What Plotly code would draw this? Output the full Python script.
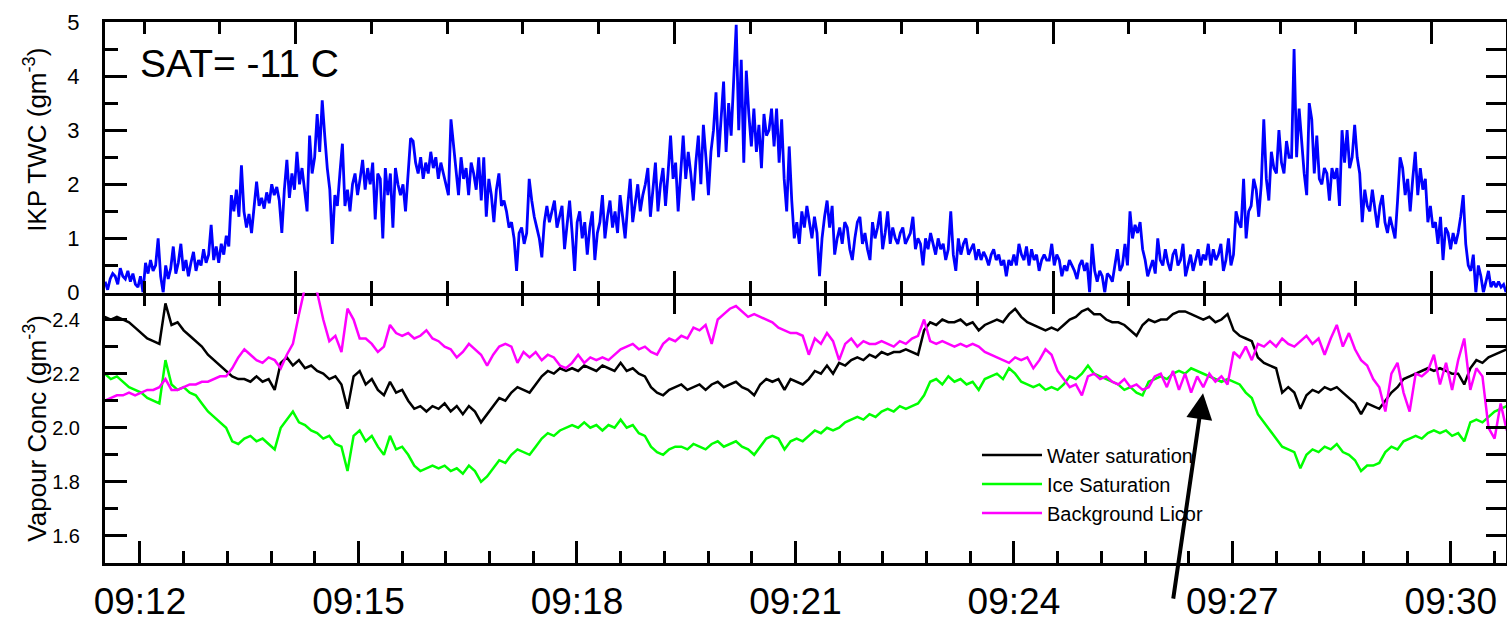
import pandas as pd
import plotly.graph_objects as go

DAY = "2000-01-01"

# ---- IKP total water content (top panel), sampled every 2 s ----
TWC_START = "09:12:29"
TWC_STEP_S = 2
twc = [
    0.2, 0.05, 0.25, 0.35, 0.3, 0.15, 0.45, 0.3, 0.25, 0.4, 0.2, 0.35, 0.15, 0.1,
    0.3, 0.0, 0.55, 0.35, 0.6, 0.4, 0.5, 1.0, 0.3, 0.0, 0.5, 0.25, 0.45, 0.85, 0.35, 0.55,
    0.9, 0.4, 0.6, 0.3, 0.55, 0.75, 0.4, 0.6, 0.5, 0.8, 0.55, 0.7, 1.25, 0.6, 0.85, 0.55,
    0.9, 0.7, 1.05, 0.85,
    1.8, 1.5, 1.9, 1.4, 2.35, 1.5, 1.2, 1.45, 1.1, 1.6, 2.05, 1.6, 1.75, 1.55, 1.85, 1.65,
    2.0, 1.8, 1.95, 1.7,
    1.1, 1.9, 2.45, 1.75, 2.2, 1.9, 2.6, 2.0, 2.3, 1.9, 1.5, 2.9, 2.2, 2.5, 3.3, 2.6, 3.55,
    2.9, 2.3,
    1.9, 0.9, 1.8, 1.6, 2.2, 2.75, 1.6, 1.9, 1.5, 2.0, 2.2, 1.8, 2.1, 2.45, 1.9, 2.3, 2.0,
    2.4, 1.35, 2.2, 2.1, 1.0, 2.3, 1.8, 2.2, 1.2, 2.3, 2.0,
    1.8, 2.0, 1.5, 2.1, 2.85, 2.8, 2.4, 2.2, 2.5, 2.1, 2.4, 2.2, 2.6, 2.3, 2.5, 2.1, 2.4,
    2.2, 2.0, 1.8,
    3.2, 2.7, 2.3, 1.8, 2.5, 2.1, 2.3, 1.8, 2.4, 2.2, 1.9, 2.5, 1.7, 2.5, 1.4, 2.1, 1.8,
    1.3, 1.9, 2.2,
    1.6, 1.7, 1.5, 1.2, 1.3, 1.0, 0.4, 1.1, 1.2, 0.9, 1.1, 2.1,
    1.7, 1.4, 1.2, 1.0, 0.65, 1.3, 1.6, 1.3, 1.5, 1.7, 1.2, 1.4, 1.6, 0.8, 1.3, 1.7, 1.1,
    0.4, 1.3, 1.5, 1.0, 1.3, 0.7, 1.2, 1.5, 0.6, 1.1,
    1.3, 1.8, 1.0, 1.4, 1.7, 1.2, 1.5, 1.1, 1.8, 1.4, 1.0, 1.6, 2.1, 1.3, 1.7, 2.0, 1.5,
    1.8, 2.0, 2.3,
    1.4, 1.9, 2.4, 1.5, 2.0, 2.3, 1.6, 2.2, 2.9, 2.1, 2.4, 1.5, 2.2, 2.9, 2.1, 2.6, 2.2,
    1.7, 2.4, 2.9,
    2.0, 3.1, 2.5, 1.8, 2.6, 3.0, 3.7, 2.5, 3.2, 3.9, 2.6, 3.5, 2.9, 3.8, 4.95, 3.0, 4.3,
    2.4, 4.1, 3.3, 2.7, 3.4, 2.6, 3.1, 2.3, 3.3, 2.9, 3.0, 3.4, 2.7, 3.4, 2.4,
    3.2, 2.1, 1.5, 2.7, 1.7, 1.0, 1.3, 0.9,
    1.5, 1.2, 1.6, 1.3, 1.0, 1.4, 1.1, 0.3, 1.0, 1.4, 1.7, 1.2, 1.6, 0.7, 1.0, 1.2, 0.9,
    1.3, 1.2, 0.8, 0.6, 1.0, 1.3, 1.4,
    0.9, 1.1, 0.8, 0.6, 1.3, 1.0, 1.2, 1.5, 0.8, 1.1, 1.5, 0.9, 1.2, 1.0, 0.9, 1.1, 1.2,
    0.9, 1.0, 1.1, 1.4, 0.8, 1.0, 0.9, 0.5, 1.0, 0.8, 1.1, 0.9, 0.7, 1.0, 0.8, 0.9, 0.6, 0.8,
    1.5, 0.7, 0.4, 1.0, 0.7, 0.9, 1.0, 0.7, 0.8, 0.9, 0.6, 0.8, 0.6, 0.75, 0.65, 0.5, 0.7,
    0.8, 0.6, 0.7, 0.5, 0.6, 0.3, 0.6, 0.5, 0.7, 0.5, 0.9, 0.7, 0.6, 0.85, 0.5, 0.8, 0.6,
    0.7, 0.4, 0.6, 0.7, 0.6,
    0.6, 0.9, 0.5, 0.7, 0.6, 0.3, 0.5, 0.4, 0.6, 0.5, 0.4, 0.25, 0.5, 0.6, 0.4, 0.55, 0.0,
    0.9, 0.4, 0.2,
    0.4, 0.3, 0.0, 0.35, 0.3, 0.2, 0.5, 0.8, 0.4, 0.5, 0.9, 0.5, 1.5, 1.0, 1.25, 1.1, 1.3, 0.8,
    0.6, 0.3, 0.45, 0.6, 0.35, 1.0, 0.6, 0.5, 0.8, 0.55, 0.4, 0.7, 0.8, 0.5, 0.6, 0.9, 0.3,
    0.5, 0.7, 0.4, 0.6, 0.8, 0.5, 0.7, 0.6, 0.9, 0.5, 0.8, 0.6, 0.7, 0.9, 0.4, 0.6, 1.0, 0.5, 0.7,
    1.5, 1.3, 1.2, 2.1, 1.0, 1.5, 1.6, 2.1, 1.9, 1.4,
    2.0, 3.2, 2.1, 1.7, 2.6, 2.3, 2.2, 3.0, 2.4, 2.2, 2.8, 2.5,
    2.5, 4.5, 2.5, 3.4, 2.8, 2.2, 1.8, 3.5, 3.2, 2.2, 2.9, 2.1,
    2.0, 2.3, 2.2, 1.7, 2.3, 2.1, 2.3, 1.6, 3.0, 2.4, 3.0, 2.3, 2.5, 3.1, 2.5, 2.2,
    1.3, 1.9, 1.6, 1.5, 1.9, 1.5, 1.2, 1.6, 1.8, 1.3, 1.1, 1.4, 1.2, 1.0, 1.7,
    2.5, 2.3, 1.8, 2.1, 1.5, 2.1, 2.6, 1.8, 2.3, 1.9,
    2.1, 1.3, 1.6, 1.2, 1.3, 0.9, 1.4, 0.6, 1.2, 1.1, 0.8, 1.1, 0.9, 1.1, 1.4, 1.8, 0.9, 0.5,
    0.4, 0.7, 0.0, 0.5, 0.3, 0.0, 0.2, 0.4, 0.1, 0.2, 0.1, 0.2, 0.1, 0.15, 0.0,
]

# ---- Vapour concentrations (bottom panel), sampled every 5 s ----
VAP_START = "09:11:31"
VAP_STEP_S = 5
water_sat = [
    2.41, 2.40, 2.41, 2.40, 2.39, 2.37, 2.35, 2.33, 2.32, 2.31,
    2.46, 2.38, 2.39, 2.36, 2.34, 2.32, 2.30, 2.27, 2.25, 2.23,
    2.21, 2.19, 2.18, 2.18, 2.17, 2.19, 2.17, 2.18, 2.14, 2.24,
    2.26, 2.23, 2.25, 2.22, 2.23, 2.21, 2.20, 2.18, 2.19, 2.16,
    2.07, 2.19, 2.21, 2.16, 2.18, 2.14, 2.12, 2.17, 2.13, 2.14,
    2.10, 2.07, 2.08, 2.06, 2.08, 2.07, 2.09, 2.06, 2.08, 2.05,
    2.08, 2.06, 2.02, 2.05, 2.08, 2.11, 2.10, 2.13, 2.15, 2.14,
    2.13, 2.16, 2.19, 2.21, 2.20, 2.22, 2.21, 2.22, 2.21, 2.23,
    2.22, 2.21, 2.23, 2.22, 2.21, 2.24, 2.21, 2.22, 2.20, 2.19,
    2.15, 2.13, 2.12, 2.14, 2.15, 2.16, 2.14, 2.15, 2.16, 2.14,
    2.16, 2.17, 2.15, 2.16, 2.17, 2.15, 2.14, 2.12, 2.16, 2.18,
    2.17, 2.18, 2.14, 2.18, 2.17, 2.16, 2.18, 2.21, 2.20, 2.23,
    2.20, 2.24, 2.23, 2.25, 2.26, 2.25, 2.27, 2.26, 2.28, 2.27,
    2.28, 2.28, 2.29, 2.28, 2.27, 2.36, 2.39, 2.38, 2.40, 2.39,
    2.39, 2.40, 2.38, 2.39, 2.36, 2.38, 2.39, 2.40, 2.39, 2.42,
    2.44, 2.41, 2.39, 2.38, 2.37, 2.36, 2.37, 2.36, 2.38, 2.40,
    2.41, 2.43, 2.44, 2.42, 2.42, 2.40, 2.39, 2.39, 2.38, 2.36,
    2.34, 2.38, 2.40, 2.39, 2.40, 2.40, 2.42, 2.43, 2.43, 2.42,
    2.41, 2.40, 2.41, 2.39, 2.40, 2.42, 2.36, 2.34, 2.33, 2.32,
    2.26, 2.24, 2.23, 2.22, 2.13, 2.15, 2.13, 2.07, 2.12, 2.14,
    2.13, 2.15, 2.14, 2.15, 2.13, 2.11, 2.09, 2.05, 2.09, 2.08,
    2.07, 2.10, 2.13, 2.15, 2.18, 2.19, 2.20, 2.21, 2.22, 2.21,
    2.22, 2.21, 2.20, 2.20, 2.16, 2.22, 2.25, 2.24, 2.26, 2.27,
    2.28, 2.29,
]
ice_sat = [
    2.20, 2.18, 2.19, 2.17, 2.15, 2.14, 2.13, 2.11, 2.10, 2.09,
    2.25, 2.16, 2.14, 2.15, 2.13, 2.12, 2.09, 2.06, 2.04, 2.02,
    2.00, 1.95, 1.94, 1.96, 1.97, 1.95, 1.96, 1.94, 1.92, 2.00,
    2.03, 2.06, 2.02, 2.01, 1.99, 1.98, 1.96, 1.97, 1.94, 1.93,
    1.84, 1.97, 1.99, 1.95, 1.97, 1.93, 1.90, 1.97, 1.92, 1.93,
    1.90, 1.86, 1.84, 1.85, 1.86, 1.85, 1.86, 1.84, 1.85, 1.83,
    1.86, 1.84, 1.80, 1.82, 1.85, 1.88, 1.87, 1.90, 1.92, 1.91,
    1.90, 1.93, 1.96, 1.98, 1.97, 1.99, 2.00, 2.01, 2.00, 2.02,
    2.00, 2.01, 1.99, 2.01, 2.00, 2.03, 2.00, 2.01, 1.98, 1.97,
    1.93, 1.91, 1.90, 1.92, 1.93, 1.93, 1.92, 1.94, 1.93, 1.92,
    1.94, 1.95, 1.93, 1.94, 1.95, 1.93, 1.92, 1.90, 1.93, 1.96,
    1.97, 1.96, 1.92, 1.95, 1.96, 1.95, 1.97, 1.99, 1.98, 2.00,
    1.99, 2.00, 2.02, 2.03, 2.04, 2.03, 2.05, 2.04, 2.06, 2.07,
    2.06, 2.08, 2.07, 2.08, 2.09, 2.12, 2.17, 2.18, 2.16, 2.19,
    2.17, 2.18, 2.16, 2.17, 2.14, 2.18, 2.19, 2.20, 2.18, 2.22,
    2.20, 2.17, 2.16, 2.15, 2.16, 2.14, 2.15, 2.14, 2.16, 2.19,
    2.18, 2.20, 2.23, 2.20, 2.19, 2.18, 2.17, 2.16, 2.14, 2.15,
    2.13, 2.12, 2.17, 2.18, 2.19, 2.18, 2.20, 2.21, 2.20, 2.22,
    2.21, 2.20, 2.19, 2.18, 2.17, 2.18, 2.17, 2.16, 2.13, 2.11,
    2.05, 2.02, 1.99, 1.96, 1.93, 1.92, 1.91, 1.85, 1.90, 1.92,
    1.91, 1.93, 1.92, 1.94, 1.91, 1.90, 1.88, 1.84, 1.86, 1.86,
    1.87, 1.91, 1.93, 1.92, 1.95, 1.96, 1.97, 1.96, 1.98, 1.99,
    1.98, 1.99, 1.97, 1.98, 1.95, 2.02, 2.03, 2.02, 2.04, 2.06,
    2.07, 2.08,
]
licor = [
    2.10, 2.11, 2.12, 2.12, 2.13, 2.12, 2.13, 2.14, 2.14, 2.15,
    2.18, 2.14, 2.14, 2.15, 2.16, 2.16, 2.17, 2.17, 2.18, 2.19,
    2.19, 2.22, 2.26, 2.29, 2.27, 2.25, 2.24, 2.26, 2.25, 2.22,
    2.27, 2.31, 2.42, 2.52, 2.53, 2.50, 2.40, 2.32, 2.34, 2.28,
    2.44, 2.40, 2.33, 2.33, 2.31, 2.28, 2.30, 2.38, 2.35, 2.34,
    2.35, 2.33, 2.34, 2.36, 2.33, 2.32, 2.30, 2.29, 2.26, 2.28,
    2.31, 2.29, 2.27, 2.23, 2.27, 2.30, 2.31, 2.30, 2.24, 2.28,
    2.26, 2.28, 2.25, 2.27, 2.26, 2.23, 2.22, 2.24, 2.27, 2.24,
    2.26, 2.25, 2.26, 2.25, 2.27, 2.29, 2.30, 2.31, 2.29, 2.30,
    2.28, 2.27, 2.31, 2.33, 2.32, 2.34, 2.33, 2.37, 2.36, 2.38,
    2.31, 2.40, 2.42, 2.44, 2.45, 2.43, 2.41, 2.42, 2.41, 2.40,
    2.39, 2.37, 2.36, 2.35, 2.35, 2.34, 2.27, 2.33, 2.31, 2.35,
    2.32, 2.25, 2.31, 2.33, 2.30, 2.32, 2.31, 2.31, 2.32, 2.31,
    2.30, 2.32, 2.31, 2.33, 2.34, 2.40, 2.32, 2.31, 2.32, 2.31,
    2.30, 2.31, 2.30, 2.31, 2.30, 2.28, 2.27, 2.26, 2.25, 2.24,
    2.26, 2.25, 2.26, 2.22, 2.25, 2.29, 2.27, 2.21, 2.18, 2.15,
    2.16, 2.12, 2.19, 2.20, 2.18, 2.19, 2.17, 2.16, 2.18, 2.15,
    2.16, 2.14, 2.15, 2.19, 2.20, 2.15, 2.21, 2.14, 2.20, 2.13,
    2.19, 2.15, 2.20, 2.17, 2.19, 2.16, 2.28, 2.26, 2.30, 2.25,
    2.31, 2.30, 2.32, 2.30, 2.33, 2.31, 2.30, 2.32, 2.34, 2.31,
    2.33, 2.27, 2.33, 2.38, 2.30, 2.35, 2.29, 2.25, 2.23, 2.18,
    2.15, 2.06, 2.20, 2.24, 2.13, 2.06, 2.20, 2.19, 2.21, 2.27,
    2.16, 2.24, 2.14, 2.25, 2.33, 2.14, 2.22, 2.19, 2.00, 1.96,
    2.09, 1.99,
]

series_names = ["Water saturation", "Ice Saturation", "Background Licor"]

# axis windows and ticks
TOP_RANGE = [f"{DAY} 09:12:28.9", f"{DAY} 09:30:58.9"]
BOT_RANGE = [f"{DAY} 09:11:31.2", f"{DAY} 09:30:45.4"]
ARROW_TIP_TIME = f"{DAY} 09:26:35.8"
ARROW_TIP_VALUE = 2.128

FONT = "Liberation Sans, Arial, sans-serif"


def times(start, step, n):
    return pd.date_range(f"{DAY} {start}", periods=n, freq=f"{step}s")


twc_t = times(TWC_START, TWC_STEP_S, len(twc))

fig = go.Figure()
fig.add_trace(go.Scatter(x=twc_t, y=twc, mode="lines", line=dict(color="#0000ff", width=2.8),
                         showlegend=False, xaxis="x", yaxis="y", hoverinfo="skip"))

for name, vals, col in zip(series_names, [water_sat, ice_sat, licor],
                           ["#000000", "#00ff00", "#ff00ff"]):
    fig.add_trace(go.Scatter(x=times(VAP_START, VAP_STEP_S, len(vals)), y=vals, mode="lines",
                             name=name, line=dict(color=col, width=2.5),
                             xaxis="x2", yaxis="y2", hoverinfo="skip"))

# helper traces so the overlay axes get drawn
fig.add_trace(go.Scatter(x=[None], y=[None], xaxis="x3", yaxis="y", showlegend=False))
fig.add_trace(go.Scatter(x=[None], y=[None], xaxis="x", yaxis="y3", showlegend=False))
fig.add_trace(go.Scatter(x=[None], y=[None], xaxis="x2", yaxis="y4", showlegend=False))

LW = 3
common = dict(showgrid=False, zeroline=False, linecolor="black", linewidth=LW,
              tickcolor="black", tickwidth=LW)

fig.update_layout(
    width=1507, height=618,
    margin=dict(l=105, r=1, t=22, b=55, autoexpand=False),
    paper_bgcolor="white", plot_bgcolor="white",
    font=dict(family=FONT, color="black"),
    xaxis=dict(domain=[0, 1], anchor="y", type="date", range=TOP_RANGE,
               showline=True, mirror="ticks", ticks="inside", ticklen=22,
               tick0=f"{DAY} 09:15:00", dtick=300000, showticklabels=False,
               minor=dict(ticks="inside", ticklen=12, dtick=60000, tickcolor="black", tickwidth=LW),
               **common),
    xaxis3=dict(overlaying="x", anchor="y", side="bottom", type="date", range=TOP_RANGE,
                showline=False, ticks="outside", ticklen=20,
                tick0=f"{DAY} 09:15:00", dtick=300000, showticklabels=False,
                minor=dict(ticks="outside", ticklen=12, dtick=60000, tickcolor="black", tickwidth=LW),
                showgrid=False, zeroline=False, tickcolor="black", tickwidth=LW),
    yaxis=dict(domain=[0.5, 1], anchor="x", range=[0, 5], showline=True,
               ticks="inside", ticklen=22, tick0=0, dtick=1,
               minor=dict(ticks="inside", ticklen=13, dtick=0.5, tickcolor="black", tickwidth=LW),
               tickfont=dict(size=22), ticklabelstandoff=18,
               **common),
    yaxis3=dict(overlaying="y", anchor="x", side="right", range=[0, 5], showline=True,
                ticks="inside", ticklen=20, tick0=0, dtick=0.5, showticklabels=False,
                **common),
    xaxis2=dict(domain=[0, 1], anchor="y2", type="date", range=BOT_RANGE,
                showline=True, ticks="inside", ticklen=22,
                tick0=f"{DAY} 09:12:00", dtick=180000, tickformat="%H:%M",
                minor=dict(ticks="inside", ticklen=12, dtick=36000, tickcolor="black", tickwidth=LW),
                tickfont=dict(size=37), ticklabelstandoff=4,
                **common),
    yaxis2=dict(domain=[0, 0.5], anchor="x2", range=[1.5, 2.5], showline=True,
                ticks="inside", ticklen=22, tick0=1.6, dtick=0.2, tickformat=".1f",
                minor=dict(ticks="inside", ticklen=13, dtick=0.1, tickcolor="black", tickwidth=LW),
                tickfont=dict(size=20), ticklabelstandoff=18,
                **common),
    yaxis4=dict(overlaying="y2", anchor="x2", side="right", range=[1.5, 2.5], showline=True,
                ticks="inside", ticklen=20, tick0=1.5, dtick=0.1, showticklabels=False,
                **common),
    legend=dict(x=0.6224, y=0.2357, xanchor="left", yanchor="top", itemwidth=60,
                bgcolor="rgba(0,0,0,0)", font=dict(size=20), borderwidth=0),
    showlegend=True,
)

# axis titles (placed as rotated texts)
fig.add_annotation(text="IKP TWC (gm<sup>-3</sup>)", xref="paper", yref="paper",
                   x=-0.0493, y=0.782, xanchor="center", yanchor="middle", textangle=-90,
                   showarrow=False, font=dict(size=26, color="black", family=FONT))
fig.add_annotation(text="Vapour Conc (gm<sup>-3</sup>)", xref="paper", yref="paper",
                   x=-0.0493, y=0.250, xanchor="center", yanchor="middle", textangle=-90,
                   showarrow=False, font=dict(size=26, color="black", family=FONT))

fig.add_annotation(text="SAT= -11 C", xref="paper", yref="paper", x=0.0236, y=0.924,
                   xanchor="left", yanchor="middle", showarrow=False,
                   font=dict(size=39, color="black", family=FONT))

fig.add_annotation(x=ARROW_TIP_TIME, y=ARROW_TIP_VALUE, xref="x2", yref="y2",
                   ax=-30, ay=207, axref="pixel", ayref="pixel", text="",
                   showarrow=True, arrowhead=2, arrowsize=1.3, arrowwidth=4,
                   arrowcolor="black")

fig.write_html("out.html", config={"displayModeBar": False},
               post_script="document.body.style.margin='0px';")
